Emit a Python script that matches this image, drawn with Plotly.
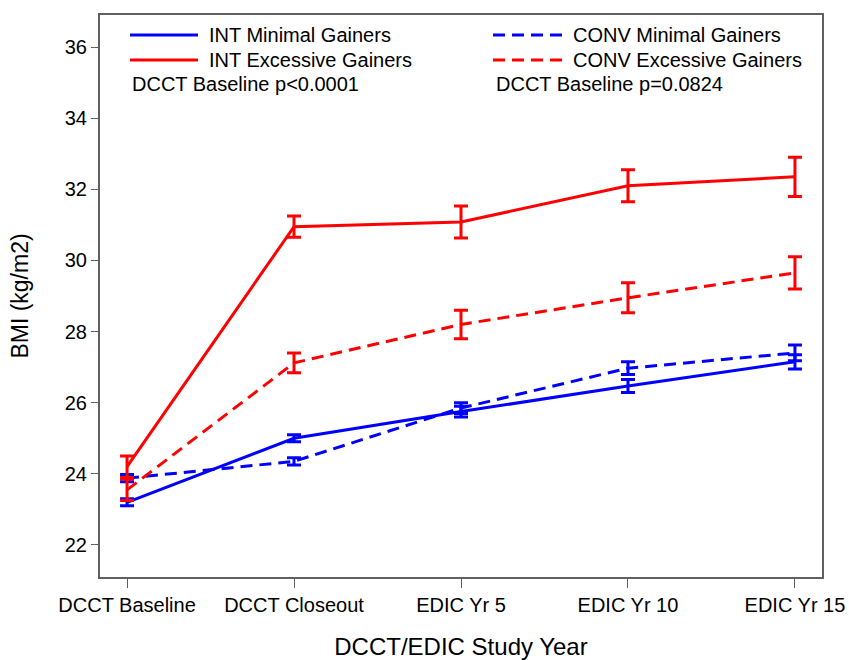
import plotly.graph_objects as go

# Study visits (x categories)
visits = ["DCCT Baseline", "DCCT Closeout", "EDIC Yr 5", "EDIC Yr 10", "EDIC Yr 15"]

# Mean BMI (kg/m2) and standard errors by group
int_minimal = [23.2, 25.0, 25.75, 26.47, 27.15]
int_minimal_se = [0.1, 0.1, 0.15, 0.18, 0.2]

conv_minimal = [23.88, 24.35, 25.85, 26.97, 27.4]
conv_minimal_se = [0.1, 0.1, 0.15, 0.18, 0.22]

int_excessive = [24.2, 30.95, 31.08, 32.1, 32.35]
int_excessive_se = [0.3, 0.3, 0.45, 0.45, 0.55]

conv_excessive = [23.55, 27.12, 28.2, 28.95, 29.65]
conv_excessive_se = [0.3, 0.28, 0.4, 0.42, 0.45]

series_names = ["INT Minimal Gainers", "CONV Minimal Gainers",
                "INT Excessive Gainers", "CONV Excessive Gainers"]
p_texts = ["DCCT Baseline p<0.0001", "DCCT Baseline p=0.0824"]

y_ticks = [22, 24, 26, 28, 30, 32, 34, 36]

BLUE = "#0000FF"
RED = "#FF0000"
DASH = "12px,7px"
FONT = "Liberation Sans, Arial, sans-serif"

series = [
    (series_names[0], int_minimal, int_minimal_se, BLUE, "solid"),
    (series_names[1], conv_minimal, conv_minimal_se, BLUE, DASH),
    (series_names[2], int_excessive, int_excessive_se, RED, "solid"),
    (series_names[3], conv_excessive, conv_excessive_se, RED, DASH),
]

x_idx = list(range(len(visits)))

fig = go.Figure()
for name, vals, se, color, dash in series:
    fig.add_trace(go.Scatter(
        x=x_idx, y=vals, name=name, mode="lines",
        line=dict(color=color, width=3, dash=dash),
        error_y=dict(type="data", array=se, symmetric=True,
                     color=color, thickness=3, width=7),
        showlegend=False,
    ))

# Plot-area geometry in pixels (used to place the in-plot key)
W, H = 849, 660
L, R, T, B = 100, 27, 15, 83
pw, ph = W - L - R, H - T - B


def px(x):
    return (x - L) / pw


def py(y):
    return (H - B - y) / ph


shapes = []
annotations = []

# Key: two columns, each with two line samples plus a p-value note
columns = [
    dict(line_x=(130, 198), text_x=207, note_x=130,
         entries=[(series_names[0], BLUE, "solid"), (series_names[2], RED, "solid")],
         note=p_texts[0]),
    dict(line_x=(493, 562), text_x=571, note_x=494,
         entries=[(series_names[1], BLUE, DASH), (series_names[3], RED, DASH)],
         note=p_texts[1]),
]
row_y = [35, 60, 84]
for col in columns:
    for (name, color, dash), yy in zip(col["entries"], row_y):
        shapes.append(dict(type="line", xref="paper", yref="paper",
                           x0=px(col["line_x"][0]), x1=px(col["line_x"][1]),
                           y0=py(yy), y1=py(yy),
                           line=dict(color=color, width=3, dash=dash)))
        annotations.append(dict(xref="paper", yref="paper", x=px(col["text_x"]), y=py(yy),
                                xanchor="left", yanchor="middle", showarrow=False,
                                text=name, font=dict(family=FONT, size=20, color="black")))
    annotations.append(dict(xref="paper", yref="paper", x=px(col["note_x"]), y=py(row_y[2]),
                            xanchor="left", yanchor="middle", showarrow=False,
                            text=col["note"], font=dict(family=FONT, size=20, color="black")))

axis_common = dict(
    showline=True, linecolor="#606060", linewidth=2, mirror=True,
    ticks="outside", tickcolor="#606060", tickwidth=1,
    showgrid=False, zeroline=False, automargin=False,
    tickfont=dict(family=FONT, size=20, color="black"),
)

fig.update_layout(
    width=W, height=H,
    margin=dict(l=L, r=R, t=T, b=B),
    paper_bgcolor="white", plot_bgcolor="white",
    shapes=shapes, annotations=annotations,
    xaxis=dict(
        **axis_common,
        range=[-0.162, 4.162],
        tickmode="array", tickvals=x_idx, ticktext=visits, ticklen=9,
        title=dict(text="DCCT/EDIC Study Year", standoff=24,
                   font=dict(family=FONT, size=24, color="black")),
    ),
    yaxis=dict(
        **axis_common,
        range=[21.1, 36.9],
        tickmode="array", tickvals=y_ticks, ticklen=7,
        title=dict(text="BMI (kg/m2)", standoff=30,
                   font=dict(family=FONT, size=23, color="black")),
    ),
)

fig.write_html("out.html")
